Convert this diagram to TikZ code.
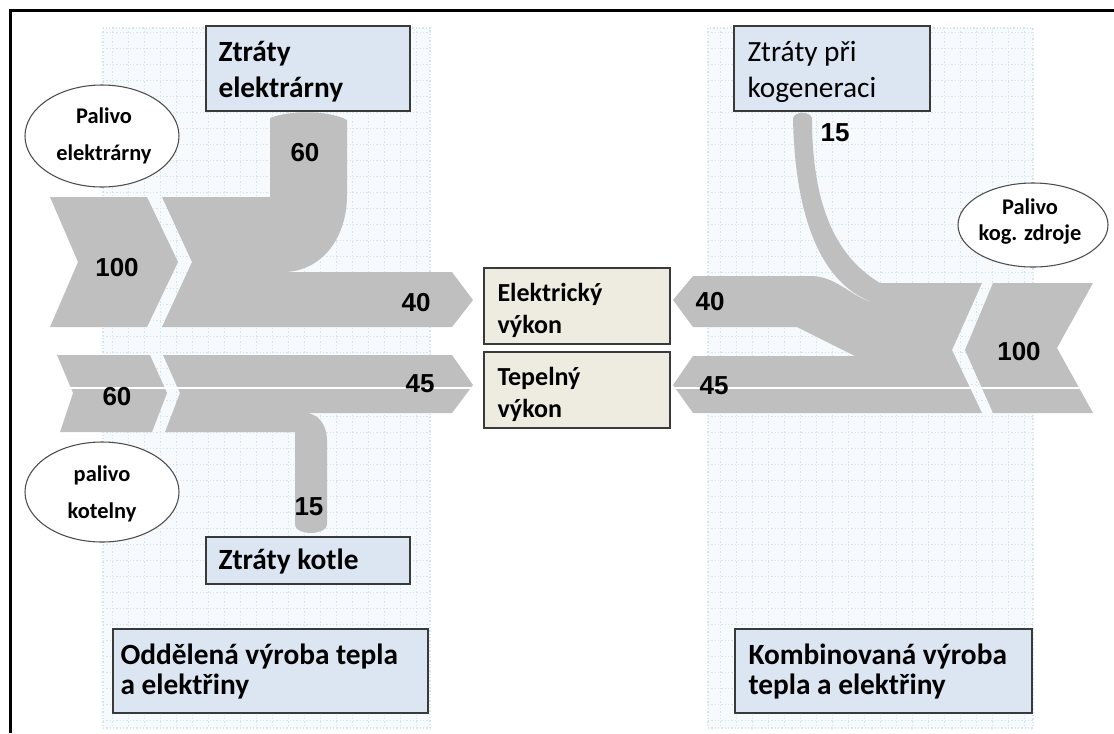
\documentclass[tikz,border=0pt]{standalone}
\usepackage{fontspec}
\newfontfamily\carlito{Carlito}
\newfontfamily\arialfont{Liberation Sans}

\definecolor{flowgray}{HTML}{BFBFBF}
\definecolor{lossblue}{HTML}{DCE6F2}
\definecolor{outbeige}{HTML}{EEECE1}
\definecolor{panelfill}{HTML}{F6FAFC}
\definecolor{panelgrid}{HTML}{D5E5EE}
\definecolor{boxline}{HTML}{3A3A3A}

\tikzset{every picture/.style={line width=0.75pt}}
\tikzset{
  flow/.style={fill=flowgray, draw=none},
  panel/.style={fill=panelfill, draw=panelgrid, dash pattern=on 1pt off 1.5pt, line width=1pt},
  gridlines/.style={draw=panelgrid, line width=0.4pt, dash pattern=on 1pt off 1.5pt, step=16},
  lossbox/.style={fill=lossblue, draw=boxline, line width=1pt},
  outbox/.style={fill=outbeige, draw=boxline, line width=1pt},
  fuel/.style={fill=white, draw=black!70, line width=0.8pt},
  num/.style={inner sep=0pt, font=\arialfont\bfseries\fontsize{19.5}{22}\selectfont},
  boxtxt/.style={anchor=west, inner sep=0pt, align=left, font=\carlito\bfseries\fontsize{22}{27}\selectfont},
  outtxt/.style={anchor=west, inner sep=0pt, align=left, font=\carlito\bfseries\fontsize{19.5}{24}\selectfont},
  fueltxt/.style={inner sep=0pt, align=center, font=\carlito\bfseries\fontsize{16.8}{28}\selectfont}
}

\begin{document}
\begin{tikzpicture}[x=0.75pt,y=0.75pt,yscale=-1,xscale=1]
\useasboundingbox (0,0) rectangle (1114,733);

%Frame
\draw [line width=2.25pt] (10,733) -- (10,10) -- (1114,10) ;

%Shape: Grid panels
\draw [panel] (103,28) rectangle (430,728) ;
\draw [gridlines] (103,28) grid (430,728) ;
\draw [panel] (708,28) rectangle (1033,728) ;
\draw [gridlines] (708,28) grid (1033,728) ;

%Shape: Chevron 100 (left)
\draw [flow] (50,197) -- (147,197) -- (178,262) -- (147,327) -- (50,327) -- (78,262) -- cycle ;
%Shape: Power plant flow
\draw [flow] (162,197) -- (270,197) -- (270,118) .. controls (290,110) and (328,110) .. (347,120) -- (347,195) .. controls (347,240) and (320,272) .. (283,272) -- (452,272) -- (473,300) -- (452,327) -- (162,327) -- (192,262) -- cycle ;
%Shape: Chevron 60 (left)
\draw [flow] (57,355) -- (150,355) -- (167,393) -- (152,432) -- (60,432) -- (73,393) -- cycle ;
%Shape: Boiler flow
\draw [flow] (163,355) -- (452,355) -- (473,385) -- (452,413) -- (305,413) .. controls (318,413) and (327,425) .. (327,440) -- (327,524) .. controls (327,531) and (316,533) .. (311,533) .. controls (305,533) and (295,531) .. (295,524) -- (295,432) -- (165,432) -- (180,393) -- cycle ;

%Shape: Cogeneration flow
\draw [flow] (673,300) -- (693,276) -- (812,276) .. controls (838,277) and (852,298) .. (875,303) .. controls (825,287) and (795,225) .. (793,118) .. controls (795,111) and (810,111) .. (812,118) .. controls (812,220) and (845,262) .. (880,283) -- (982,283) -- (952,350) -- (982,413) -- (693,413) -- (673,385) -- (693,356) -- (855,356) -- (797,327) -- (693,327) -- cycle ;
%Shape: Chevron 100 (right)
\draw [flow] (993,283) -- (1093,283) -- (1057,348) -- (1093,413) -- (993,413) -- (965,350) -- cycle ;

%Straight Lines: light seam through the heat flows
\draw [white, line width=0.8pt] (57,388) -- (473,388) ;
\draw [white, line width=0.8pt] (673,388) -- (1093,388) ;

%Shape: Rectangles
\draw [lossbox] (206,26) rectangle (410,111) ;
\draw [lossbox] (734,26) rectangle (930,111) ;
\draw [lossbox] (206,537) rectangle (410,584) ;
\draw [lossbox] (113,629) rectangle (428,713) ;
\draw [lossbox] (735,629) rectangle (1032,713) ;
\draw [outbox] (484,268) rectangle (670,344) ;
\draw [outbox] (484,352) rectangle (670,428) ;

%Shape: Ellipses
\draw [fuel] (102,136) ellipse (77 and 51) ;
\draw [fuel] (102,492) ellipse (77 and 50) ;
\draw [fuel] (1033,225) ellipse (75 and 42) ;

% Text Node
\draw (218,72) node (ztel) [boxtxt] {Ztráty\\elektrárny};
% Text Node
\draw (747,72) node (ztkog) [boxtxt, font=\carlito\fontsize{22}{27}\selectfont] {Ztráty při\\kogeneraci};
% Text Node
\draw (218,562) node (ztkot) [boxtxt] {Ztráty kotle};
% Text Node
\draw (120,672) node (odd) [boxtxt, font=\carlito\bfseries\fontsize{22}{22.5}\selectfont] {Oddělená výroba tepla\\a elektřiny};
% Text Node
\draw (748,672) node (komb) [boxtxt, font=\carlito\bfseries\fontsize{22}{22.5}\selectfont] {Kombinovaná výroba\\tepla a elektřiny};
% Text Node
\draw (497,310) node (elv) [outtxt] {Elektrický\\výkon};
% Text Node
\draw (497,394) node (tepv) [outtxt] {Tepelný\\výkon};
% Text Node
\draw (104,136) node (palel) [fueltxt] {Palivo\\elektrárny};
% Text Node
\draw (102,494) node (palkot) [fueltxt] {palivo\\kotelny};
% Text Node
\draw (1030,222) node (palkog) [fueltxt, font=\carlito\bfseries\fontsize{16.8}{19.5}\selectfont] {Palivo\\kog. zdroje};

% Text Node: flow values
\draw (117,268) node (nel) [num] {100};
\draw (305,153) node (nelz) [num] {60};
\draw (416,303) node (nelv) [num] {40};
\draw (117,397) node (nkot) [num] {60};
\draw (420,384) node (nkotv) [num] {45};
\draw (309,507) node (nkotz) [num] {15};
\draw (710,302) node (nkgel) [num] {40};
\draw (714,386) node (nkgtep) [num] {45};
\draw (1019,352) node (nkg) [num] {100};
\draw (835,133) node (nkgz) [num] {15};

\end{tikzpicture}
\end{document}
